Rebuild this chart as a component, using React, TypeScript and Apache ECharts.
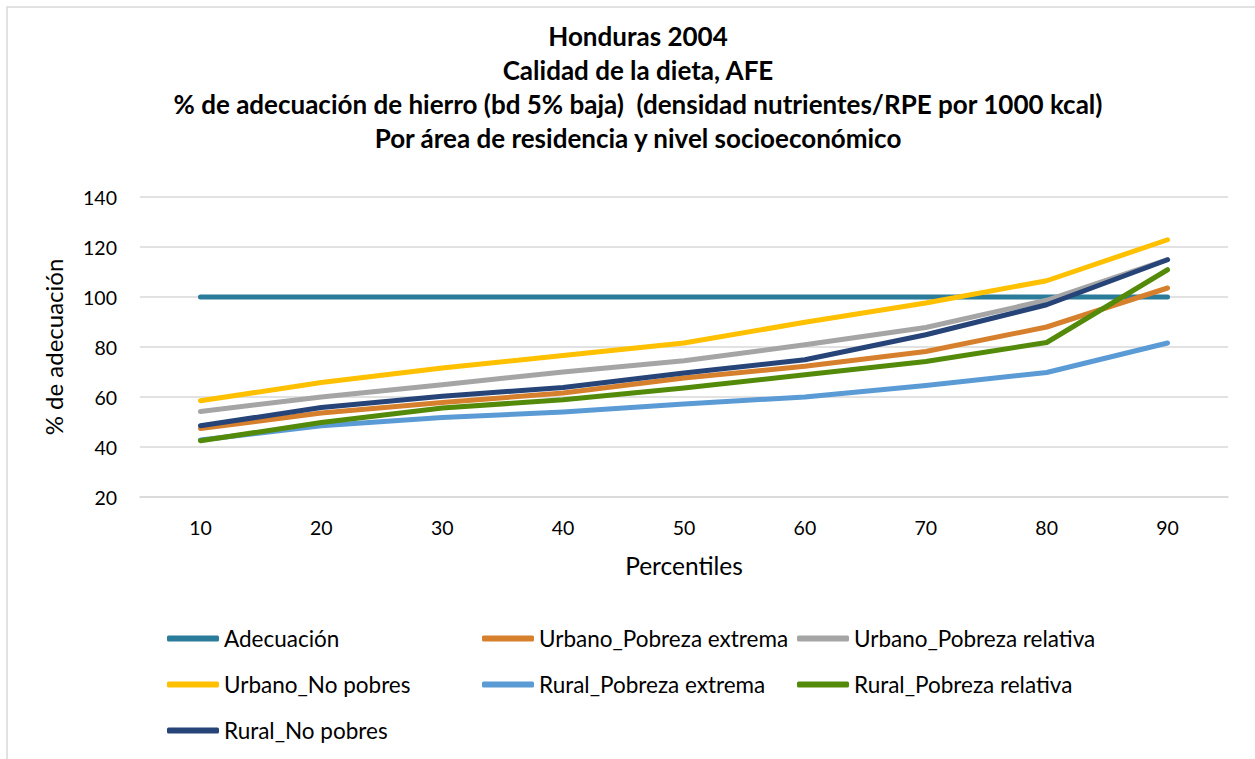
import React, { useEffect, useRef } from "react";
import * as echarts from "echarts";

const percentiles = ["10", "20", "30", "40", "50", "60", "70", "80", "90"];

const adecuacion = [100, 100, 100, 100, 100, 100, 100, 100, 100];
const urbanoPobrezaExtrema = [47.4, 53.6, 57.8, 61.6, 67.6, 72.3, 78.2, 88.0, 103.6];
const urbanoPobrezaRelativa = [54.2, 60.0, 64.9, 70.0, 74.5, 80.9, 87.8, 98.7, 115.0];
const urbanoNoPobres = [58.5, 65.8, 71.6, 76.6, 81.6, 89.9, 97.6, 106.5, 122.9];
const ruralPobrezaExtrema = [42.8, 48.5, 51.8, 54.0, 57.2, 60.0, 64.6, 69.8, 81.6];
const ruralPobrezaRelativa = [42.5, 49.8, 55.6, 58.9, 63.6, 68.9, 74.2, 81.8, 110.9];
const ruralNoPobres = [48.5, 55.8, 60.3, 63.8, 69.6, 74.9, 84.9, 96.9, 114.9];

const seriesNames = [
  "Adecuación",
  "Urbano_Pobreza extrema",
  "Urbano_Pobreza relativa",
  "Urbano_No pobres",
  "Rural_Pobreza extrema",
  "Rural_Pobreza relativa",
  "Rural_No pobres",
];
const seriesValues = [
  adecuacion,
  urbanoPobrezaExtrema,
  urbanoPobrezaRelativa,
  urbanoNoPobres,
  ruralPobrezaExtrema,
  ruralPobrezaRelativa,
  ruralNoPobres,
];
const seriesColors = ["#2A7C9A", "#D6802D", "#A5A5A5", "#FFC000", "#5B9BD5", "#548A0A", "#264478"];

const titleLines = [
  "Honduras 2004",
  "Calidad de la dieta, AFE",
  "% de adecuación de hierro (bd 5% baja)  (densidad nutrientes/RPE por 1000 kcal)",
  "Por área de residencia y nivel socioeconómico",
];

const FONT = "Lato, 'Open Sans', sans-serif";

export default function App() {
  const ref = useRef<HTMLDivElement>(null);

  useEffect(() => {
    if (!ref.current) return;
    const chart = echarts.init(ref.current, null, { renderer: "svg" });

    const legendText = { fontFamily: FONT, fontSize: 22.5, color: "#000" };
    const legendBase = {
      orient: "vertical",
      icon: "roundRect",
      itemWidth: 52,
      itemHeight: 6,
      itemGap: 23,
      padding: 0,
      textStyle: legendText,
    };

    chart.setOption({
      animation: false,
      backgroundColor: "#fff",
      title: {
        text: titleLines.join("\n"),
        left: 638,
        top: 19,
        textAlign: "center",
        padding: 0,
        textStyle: {
          fontFamily: FONT,
          fontSize: 26,
          fontWeight: "bold",
          color: "#000",
          lineHeight: 34,
        },
      },
      graphic: [
        {
          type: "rect",
          shape: { x: 7, y: 7, width: 1300, height: 800 },
          style: { fill: "none", stroke: "#D9D9D9", lineWidth: 1.5 },
          silent: true,
        },
      ],
      legend: [
        { ...legendBase, left: 167, top: 627, data: [seriesNames[0], seriesNames[3], seriesNames[6]] },
        { ...legendBase, left: 482, top: 627, data: [seriesNames[1], seriesNames[4]] },
        { ...legendBase, left: 797, top: 627, data: [seriesNames[2], seriesNames[5]] },
      ],
      grid: { left: 140, right: 27, top: 197, bottom: 262, containLabel: false },
      xAxis: {
        type: "category",
        data: percentiles,
        boundaryGap: true,
        name: "Percentiles",
        nameLocation: "middle",
        nameGap: 56,
        nameTextStyle: { fontFamily: FONT, fontSize: 24.5, color: "#000" },
        axisLine: { show: true, lineStyle: { color: "#D9D9D9", width: 1.5 } },
        axisTick: { show: false },
        axisLabel: { fontFamily: FONT, fontSize: 19.5, color: "#000", margin: 20 },
      },
      yAxis: {
        type: "value",
        min: 20,
        max: 140,
        interval: 20,
        name: "% de adecuación",
        nameLocation: "middle",
        nameGap: 75,
        nameRotate: 90,
        nameTextStyle: { fontFamily: FONT, fontSize: 24, color: "#000" },
        axisLine: { show: false },
        axisTick: { show: false },
        splitLine: { lineStyle: { color: "#D9D9D9", width: 1.5 } },
        axisLabel: { fontFamily: FONT, fontSize: 19.5, color: "#000", margin: 23 },
      },
      series: seriesNames.map((name, i) => ({
        name,
        type: "line",
        data: seriesValues[i],
        color: seriesColors[i],
        showSymbol: false,
        symbol: "none",
        lineStyle: { width: 5, color: seriesColors[i], cap: "round", join: "round" },
        z: 2 + i,
      })),
    });

    return () => chart.dispose();
  }, []);

  return (
    <div
      ref={ref}
      style={{ position: "fixed", left: 0, top: 0, width: 1255, height: 759, background: "#fff" }}
    />
  );
}
